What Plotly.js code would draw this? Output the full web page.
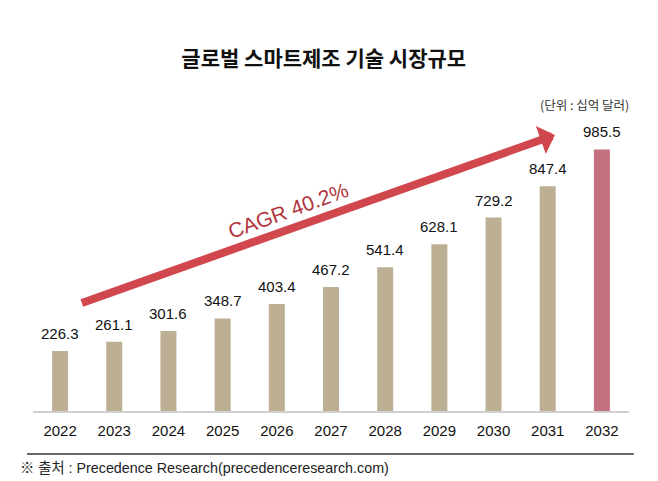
<!DOCTYPE html>
<html>
<head>
<meta charset="utf-8">
<script src="https://cdn.plot.ly/plotly-3.0.1.min.js"></script>
<style>
    body { margin: 0; background: #ffffff; }
    #chart { width: 658px; height: 481px; }
</style>
</head>
<body>
<div id="chart"></div>
<script>
// chart data
const years = ['2022', '2023', '2024', '2025', '2026', '2027', '2028', '2029', '2030', '2031', '2032'];
const marketSize = [226.3, 261.1, 301.6, 348.7, 403.4, 467.2, 541.4, 628.1, 729.2, 847.4, 985.5];
const barColors = ['#bdaf94', '#bdaf94', '#bdaf94', '#bdaf94', '#bdaf94', '#bdaf94', '#bdaf94', '#bdaf94', '#bdaf94', '#bdaf94', '#c3707f'];

const titleText = '글로벌 스마트제조 기술 시장규모';
const unitText = '(단위 : 십억 달러)';
const cagrText = 'CAGR 40.2%';
const sourceText = '※ 출처 : Precedence Research(precedenceresearch.com)';

const latinFont = 'Liberation Sans, Arial, Noto Sans CJK KR, sans-serif';
const koreanFont = 'Noto Sans CJK KR, sans-serif';

function valueLabels() {
    let labels = [];
    for (let i = 0;i < years.length;i++) {
        // category axis: annotation x is the category's serial number
        labels.push({
            x: i,
            y: marketSize[i],
            xref: 'x',
            yref: 'y',
            text: marketSize[i].toFixed(1),
            showarrow: false,
            yanchor: 'bottom',
            yshift: 7,
            font: { family: latinFont, size: 15, color: '#111111' }
        });
    }
    return labels;
}

function createLayout() {
    const layout = {
        width: 658,
        height: 481,
        margin: { l: 33, r: 29, t: 100, b: 70, pad: 0 },
        paper_bgcolor: '#ffffff',
        plot_bgcolor: '#ffffff',
        showlegend: false,
        bargap: 0.705,
        title: {
            text: titleText,
            xref: 'container',
            yref: 'container',
            x: 0.492,
            y: 0.879,
            xanchor: 'center',
            yanchor: 'middle',
            font: { family: koreanFont, size: 21, color: '#111111', weight: 'bold' }
        },
        xaxis: {
            type: 'category',
            range: [-0.5, 10.5],
            showgrid: false,
            zeroline: false,
            showline: true,
            linecolor: '#d0d0d0',
            linewidth: 1.5,
            ticks: 'outside',
            ticklen: 5,
            tickcolor: 'rgba(0,0,0,0)',
            tickfont: { family: latinFont, size: 15, color: '#111111' },
            fixedrange: true
        },
        yaxis: {
            range: [0, 1172],
            visible: false,
            showgrid: false,
            zeroline: false,
            fixedrange: true
        },
        shapes: [{
            // rule above the source note
            type: 'line',
            xref: 'paper',
            yref: 'paper',
            x0: -0.01,
            x1: 1.008,
            y0: -0.138,
            y1: -0.138,
            line: { color: '#333333', width: 1.5 }
        }],
        annotations: []
    };

    layout.annotations = valueLabels();

    // growth arrow
    layout.annotations.push({
        xref: 'paper',
        yref: 'paper',
        x: 0.8756,
        y: 0.8875,
        ax: -476,
        ay: 169,
        text: ' ',
        showarrow: true,
        arrowhead: 1,
        arrowsize: 0.62,
        arrowwidth: 8,
        arrowcolor: '#d0474d',
        standoff: 0,
        startstandoff: 0
    });

    layout.annotations.push({
        xref: 'paper',
        yref: 'paper',
        x: 0.4277,
        y: 0.646,
        text: cagrText,
        textangle: -20,
        showarrow: false,
        font: { family: latinFont, size: 21, color: '#b3343c' }
    });

    layout.annotations.push({
        xref: 'paper',
        yref: 'paper',
        x: 1.003,
        y: 0.984,
        xanchor: 'right',
        yanchor: 'middle',
        text: unitText,
        showarrow: false,
        font: { family: koreanFont, size: 12.5, color: '#333333' }
    });

    layout.annotations.push({
        xref: 'paper',
        yref: 'paper',
        x: -0.025,
        y: -0.183,
        xanchor: 'left',
        yanchor: 'middle',
        text: sourceText,
        showarrow: false,
        font: { family: latinFont, size: 14.3, color: '#222222' }
    });

    return layout;
}

let trace = {
    x: years,
    y: marketSize,
    type: 'bar',
    marker: { color: barColors, line: { width: 0 } },
    hoverinfo: 'x+y'
};

Plotly.newPlot('chart', [trace], createLayout(), { displayModeBar: false, staticPlot: true });
</script>
</body>
</html>
